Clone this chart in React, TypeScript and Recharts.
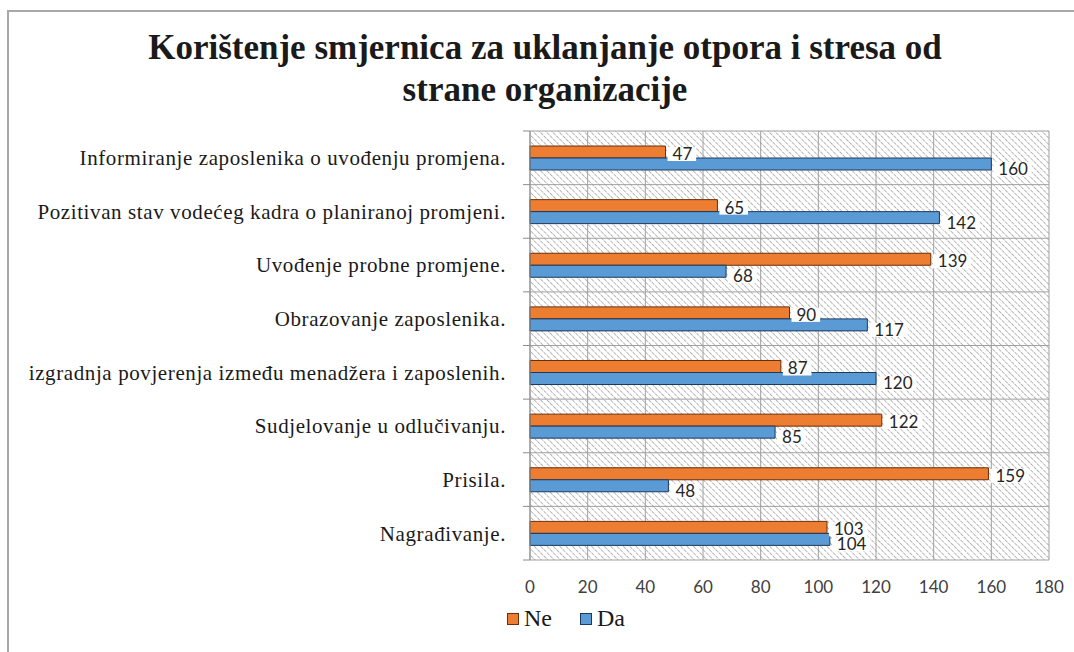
import React from 'react';
import { BarChart, Bar, XAxis, YAxis, CartesianGrid, LabelList } from 'recharts';

const categories = [
  'Informiranje zaposlenika o uvođenju promjena.',
  'Pozitivan stav vodećeg kadra o planiranoj promjeni.',
  'Uvođenje probne promjene.',
  'Obrazovanje zaposlenika.',
  'izgradnja povjerenja između menadžera i zaposlenih.',
  'Sudjelovanje u odlučivanju.',
  'Prisila.',
  'Nagrađivanje.',
];
const neValues = [47, 65, 139, 90, 87, 122, 159, 103];
const daValues = [160, 142, 68, 117, 120, 85, 48, 104];
const xTicks = [0, 20, 40, 60, 80, 100, 120, 140, 160, 180];

const series = [
  { key: 'Ne', fill: '#ED7D31', stroke: '#6b2e08', labelDy: 2 },
  { key: 'Da', fill: '#5B9BD5', stroke: '#1c3a5e', labelDy: 5 },
];

const data = categories.map((name, i) => ({ name, Ne: neValues[i], Da: daValues[i] }));

const W = 1074;
const H = 652;
const margin = { top: 131, right: 25, bottom: 62, left: 10 };
const Y_AXIS_W = 520;
const X_AXIS_H = 30;
const plotH = H - margin.top - margin.bottom - X_AXIS_H;
const band = plotH / categories.length;

const CategoryTick = (props: any) => {
  const { x, y, payload, index } = props;
  return (
    <g>
      <line x1={x - 7} x2={x} y1={y - band / 2} y2={y - band / 2} stroke="#8c8c8c" />
      {index === categories.length - 1 && (
        <line x1={x - 7} x2={x} y1={y + band / 2} y2={y + band / 2} stroke="#8c8c8c" />
      )}
      <text
        x={x - 24}
        y={y}
        dy="0.35em"
        textAnchor="end"
        fontFamily="'Liberation Serif', 'Times New Roman', serif"
        fontSize={21}
        letterSpacing={0.6}
        fill="#1a1a1a"
      >
        {payload.value}
      </text>
    </g>
  );
};

const makeLabel = (dyExtra: number) => (props: any) => {
  const { x, y, width, height, value } = props;
  const tx = x + width + 7;
  const ty = y + height / 2 + dyExtra;
  const tw = String(value).length * 9.8;
  return (
    <g>
      <rect x={x + width + 2} y={ty - 7} width={tw + 9} height={14} fill="#ffffff" />
      <text
        x={tx}
        y={ty}
        dy="0.35em"
        fontFamily="Lato, 'Open Sans', sans-serif"
        fontSize={17}
        fill="#262626"
      >
        {value}
      </text>
    </g>
  );
};

const hatchCoords = ({ offset }: any) =>
  categories.map((_, i) => offset.top + i * (offset.height / categories.length)).concat(offset.top + offset.height);

export default function App() {
  return (
    <div style={{ position: 'absolute', left: 0, top: 0, width: W, height: H, background: '#fff', overflow: 'hidden' }}>
      <div
        style={{
          position: 'absolute',
          left: 7,
          top: 10,
          width: W,
          height: H,
          borderTop: '2px solid #a8a8a8',
          borderLeft: '2px solid #a8a8a8',
        }}
      />
      <div
        style={{
          position: 'absolute',
          left: 16,
          top: 27,
          width: 1058,
          textAlign: 'center',
          fontFamily: "'Liberation Serif', 'Times New Roman', serif",
          fontWeight: 'bold',
          fontSize: 35,
          lineHeight: '42px',
          color: '#1a1a1a',
        }}
      >
        Korištenje smjernica za uklanjanje otpora i stresa od
        <br />
        strane organizacije
      </div>
      <div style={{ position: 'absolute', left: 0, top: 0 }}>
        <BarChart width={W} height={H} data={data} layout="vertical" margin={margin} barSize={12} barGap={0}>
          <defs>
            <pattern id="hatch" width="4.5" height="4.5" patternUnits="userSpaceOnUse" patternTransform="rotate(-45)">
              <rect width="4.5" height="4.5" fill="#ffffff" />
              <line x1="0" y1="0" x2="0" y2="4.5" stroke="#7d7d7d" strokeWidth="1.1" strokeDasharray="2.5 0.8" />
            </pattern>
          </defs>
          <CartesianGrid
            stroke="#a0a0a0"
            fill="url(#hatch)"
            fillOpacity={1}
            horizontalCoordinatesGenerator={hatchCoords}
          />
          <XAxis
            type="number"
            domain={[0, 180]}
            ticks={xTicks}
            axisLine={false}
            tickLine={false}
            tickMargin={15}
            height={X_AXIS_H}
            tick={{ fontFamily: 'Lato, sans-serif', fontSize: 17, fill: '#404040' }}
          />
          <YAxis
            type="category"
            dataKey="name"
            width={Y_AXIS_W}
            axisLine={{ stroke: '#8c8c8c' }}
            tickLine={false}
            tickSize={0}
            tickMargin={0}
            interval={0}
            tick={<CategoryTick />}
          />
          {series.map((s) => (
            <Bar key={s.key} dataKey={s.key} fill={s.fill} stroke={s.stroke} strokeWidth={1} isAnimationActive={false}>
              <LabelList dataKey={s.key} content={makeLabel(s.labelDy)} />
            </Bar>
          ))}
        </BarChart>
      </div>
      <div
        style={{
          position: 'absolute',
          left: 507,
          top: 605,
          display: 'flex',
          alignItems: 'center',
          fontFamily: "'Liberation Serif', 'Times New Roman', serif",
          fontSize: 24,
          color: '#1a1a1a',
        }}
      >
        {series.map((s) => (
          <div key={s.key} style={{ display: 'flex', alignItems: 'center', marginRight: 28 }}>
            <span
              style={{
                display: 'inline-block',
                width: 10,
                height: 10,
                background: s.fill,
                border: `1px solid ${s.stroke}`,
                marginRight: 5,
              }}
            />
            {s.key}
          </div>
        ))}
      </div>
    </div>
  );
}
